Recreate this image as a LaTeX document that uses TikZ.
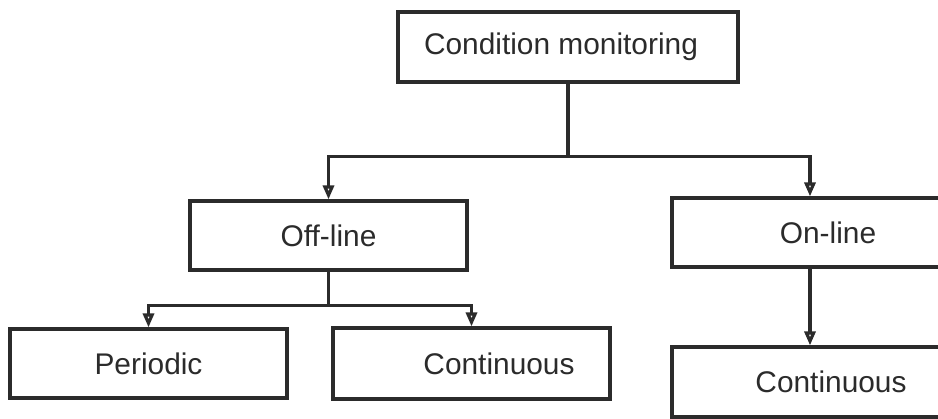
\documentclass[tikz,border=0pt]{standalone}
\usepackage{fontspec}
\setmainfont{Liberation Sans}
\usepackage{tikz}
\usetikzlibrary{arrows.meta}
\definecolor{scanink}{HTML}{2B2B2B}
\tikzset{
    box/.style={draw=scanink, line width=1.8pt, minimum width=5.54cm, minimum height=1.38cm,
                inner sep=0pt, text=scanink, font=\fontsize{17}{20}\selectfont},
    link/.style={line width=1.8pt, scanink},
    arr/.style={link, -{Triangle[open, length=2.8mm, width=2.2mm]}}
}

\begin{document}
\begin{tikzpicture}[x=0.02cm, y=-0.02cm]
    \clip (0,0) rectangle (938,419);
    \node[box, minimum width=6.8cm, minimum height=1.4cm] (cm) at (568,47) {Condition monitoring\hspace*{0.28cm}};
    \node[box] (off) at (328.5,235.5) {Off-line};
    \node[box, minimum width=5.52cm] (on) at (810,232.5) {\hspace*{0.72cm}On-line};
    \node[box] (per) at (148.5,363.5) {Periodic};
    \node[box, minimum height=1.42cm] (offcont) at (471.5,363.5) {\hspace*{1.1cm}Continuous};
    \node[box, minimum width=5.52cm, minimum height=1.4cm] (oncont) at (810,382) {\hspace*{0.84cm}Continuous};
    % branches
    \draw[arr] (cm.south) -- ++(0,73) -| (off.north);
    \draw[arr] (cm.south) -- ++(0,73) -| (on.north);
    \draw[arr] (off.south) -- ++(0,34) -| (per.north);
    \draw[arr] (off.south) -- ++(0,34) -| (offcont.north);
    \draw[arr] (on) -- (oncont);
\end{tikzpicture}
\end{document}
